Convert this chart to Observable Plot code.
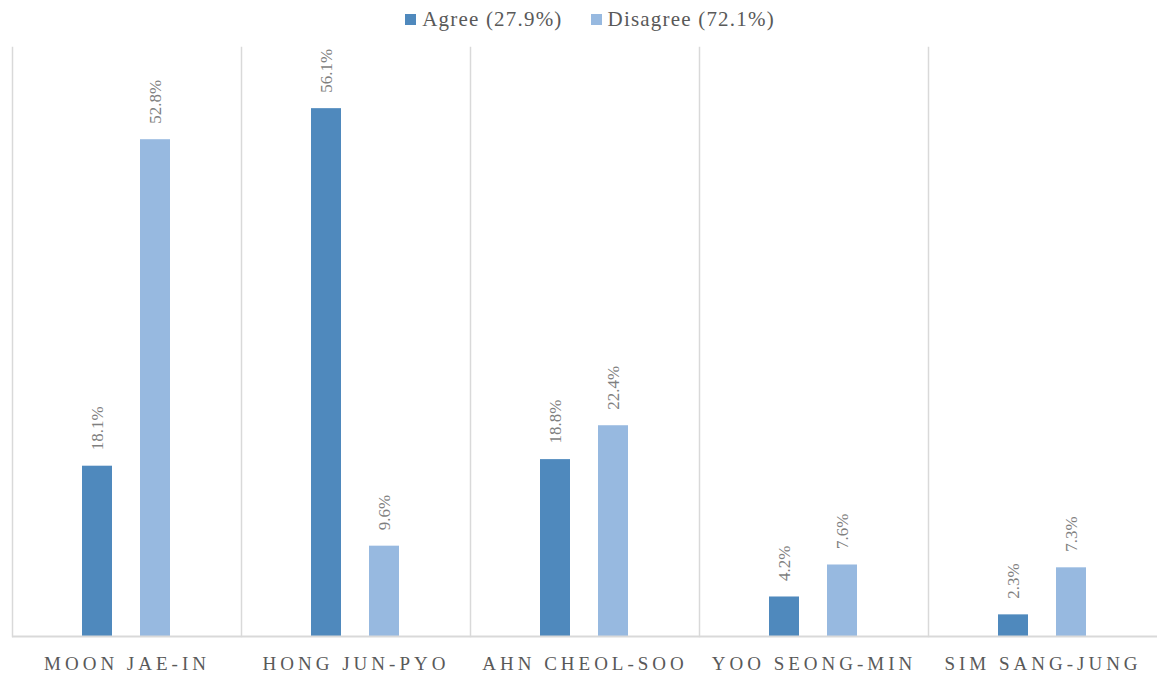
<!DOCTYPE html>
<html>
<head>
<meta charset="utf-8">
<script src="https://cdn.jsdelivr.net/npm/d3@7"></script>
<script src="https://cdn.jsdelivr.net/npm/@observablehq/plot@0.6"></script>
<style>
  html, body { margin: 0; padding: 0; background: #fff; overflow: hidden; }
  #legend { height: 30px; display: flex; justify-content: center; align-items: flex-end; gap: 28px;
    font-family: 'Liberation Serif', serif; font-size: 21px; color: #595959; padding-left: 22px; box-sizing: border-box; }
  #legend .item { display: flex; align-items: center; letter-spacing: 1.2px; line-height: 21px; }
  #legend .sw { width: 11px; height: 11px; margin-right: 6px; display: inline-block; }
</style>
</head>
<body>
<div id="legend"></div>
<div id="chart"></div>
<script>
const candidates = ["MOON JAE-IN", "HONG JUN-PYO", "AHN CHEOL-SOO", "YOO SEONG-MIN", "SIM SANG-JUNG"];
const seriesNames = ["Agree", "Disagree"];
const seriesTotals = ["27.9%", "72.1%"];
const agreeValues = [18.1, 56.1, 18.8, 4.2, 2.3];
const disagreeValues = [52.8, 9.6, 22.4, 7.6, 7.3];
const colors = ["#4F89BD", "#97B9E0"];

const data = [];
candidates.forEach((c, i) => {
  data.push({candidate: c, series: seriesNames[0], value: agreeValues[i]});
  data.push({candidate: c, series: seriesNames[1], value: disagreeValues[i]});
});

const FONT = "'Liberation Serif', serif";
const legend = document.getElementById("legend");
seriesNames.forEach((s, i) => {
  const it = document.createElement("div");
  it.className = "item";
  it.innerHTML = `<span class="sw" style="background:${colors[i]}"></span>${s} (${seriesTotals[i]})`;
  legend.appendChild(it);
});

const chart = Plot.plot({
  width: 1158,
  height: 645,
  marginTop: 17,
  marginBottom: 39,
  marginLeft: 10,
  marginRight: 0,
  style: {fontFamily: FONT, background: "#fff", overflow: "visible"},
  fx: {domain: candidates, padding: 0, label: null},
  x: {domain: seriesNames, paddingInner: 0.475, paddingOuter: 1.186, axis: null},
  y: {domain: [0, 62.6], axis: null},
  color: {domain: seriesNames, range: colors},
  marks: [
    Plot.frame({anchor: "left", stroke: "#d9d9d9", strokeWidth: 1.5}),
    Plot.barY(data, {fx: "candidate", x: "series", y: "value", fill: "series"}),
    Plot.ruleY([0], {stroke: "#d9d9d9", strokeWidth: 2}),
    Plot.text(data, {fx: "candidate", x: "series", y: "value", text: d => d.value.toFixed(1) + "%",
      rotate: -90, textAnchor: "start", dy: -16, fill: "#7f7f7f", fontSize: 17, fontFamily: "Liberation Serif", style: "letter-spacing:1px"}),
    Plot.axisFx({anchor: "bottom", tickSize: 0, tickPadding: 20, fontSize: 19, fill: "#595959", fontFamily: "Liberation Serif", label: null})
  ]
});
chart.querySelectorAll("g[aria-label='fx-axis tick label'] text, g[aria-label='fx-axis tick label']").forEach(el => el.style.letterSpacing = "4px");
document.getElementById("chart").appendChild(chart);
</script>
</body>
</html>
